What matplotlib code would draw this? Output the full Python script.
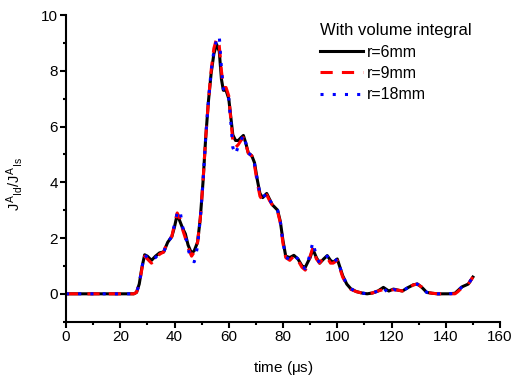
import matplotlib
matplotlib.use('agg')
import matplotlib.pyplot as plt
from matplotlib.ticker import MultipleLocator

plt.rcParams['font.family'] = ['Liberation Sans', 'DejaVu Sans']
plt.rcParams['mathtext.fontset'] = 'custom'
plt.rcParams['mathtext.rm'] = 'Liberation Sans'
plt.rcParams['mathtext.it'] = 'Liberation Sans'

# time samples (us)
t = [0, 25, 26, 27, 28, 29, 30, 31.5, 33, 34.5, 36, 37.5, 39, 40, 41, 42, 43, 44, 45,
     46.3, 47.3, 48.5, 49.5, 50.5, 51.5, 52.5, 53.5, 54.5, 55.5, 56.5, 57.3, 58, 59, 60,
     60.8, 61.5, 62.5, 63.5, 64.5, 65.4, 66.3, 67.2, 68.5, 69.5, 70.5, 71.5, 72.5, 74, 75,
     76, 77, 78, 79, 80, 81, 82.5, 84, 85.5, 87, 88.2, 89.2, 90, 91, 92.3, 93.5, 95, 96.3,
     97.5, 98.5, 100, 101, 102, 103.5, 105, 107, 109, 111, 113, 115, 117, 119, 120.7,
     122.5, 124, 126, 128, 129.5, 131, 133, 135, 137, 139, 141, 143.4, 144.5, 146, 148.3, 150]

r6 = [0, 0, 0.05, 0.35, 0.95, 1.4, 1.35, 1.2, 1.35, 1.47, 1.5, 1.85, 2.05, 2.4, 2.85, 2.6, 2.35, 2.15, 1.75,
      1.45, 1.55, 1.85, 2.7, 4.0, 5.6, 6.9, 7.9, 8.6, 8.95, 8.7, 7.7, 7.3, 7.3, 7.0,
      6.3, 5.7, 5.5, 5.5, 5.6, 5.68, 5.4, 5.05, 4.95, 4.7, 4.1, 3.6, 3.45, 3.6, 3.4,
      3.2, 3.1, 3.0, 2.6, 1.9, 1.35, 1.3, 1.38, 1.25, 1.0, 0.95, 1.15, 1.3, 1.6, 1.3, 1.1, 1.25, 1.37,
      1.2, 1.13, 1.25, 0.95, 0.65, 0.35, 0.18, 0.08, 0.03, 0.0, 0.03, 0.1, 0.23, 0.1, 0.17,
      0.13, 0.1, 0.22, 0.32, 0.35, 0.25, 0.05, 0.02, 0.0, 0.0, 0.0, 0.02, 0.12, 0.25, 0.35, 0.6]

r9 = [0, 0, 0.05, 0.35, 0.9, 1.35, 1.25, 1.1, 1.25, 1.42, 1.5, 1.9, 2.05, 2.5, 2.9, 2.7, 2.3, 2.0, 1.65,
      1.35, 1.5, 1.85, 2.7, 4.0, 5.6, 6.9, 8.0, 8.8, 9.15, 8.9, 8.0, 7.4, 7.4, 7.1,
      6.2, 5.5, 5.25, 5.35, 5.5, 5.6, 5.35, 5.05, 4.95, 4.6, 4.0, 3.5, 3.35, 3.55, 3.35,
      3.2, 3.1, 2.95, 2.55, 1.8, 1.3, 1.2, 1.35, 1.2, 0.95, 0.85, 1.05, 1.35, 1.65, 1.25, 1.1, 1.3, 1.3,
      1.1, 1.1, 1.2, 0.9, 0.6, 0.33, 0.16, 0.08, 0.03, 0.0, 0.03, 0.1, 0.15, 0.12, 0.15,
      0.13, 0.1, 0.2, 0.32, 0.35, 0.25, 0.05, 0.02, 0.0, 0.0, 0.0, 0.0, 0.08, 0.22, 0.35, 0.6]

r18 = [0, 0, 0.05, 0.35, 0.95, 1.4, 1.3, 1.2, 1.3, 1.45, 1.5, 1.85, 2.05, 2.5, 2.9, 3.0, 2.4, 2.1, 1.6,
       1.2, 1.15, 1.7, 2.7, 4.0, 5.6, 6.9, 8.0, 8.7, 9.1, 9.25, 8.1, 7.35, 7.3, 7.0,
       6.1, 5.25, 5.0, 5.3, 5.5, 5.7, 5.4, 5.05, 4.95, 4.65, 4.1, 3.6, 3.45, 3.6, 3.4,
       3.2, 3.1, 3.0, 2.6, 1.85, 1.3, 1.25, 1.38, 1.25, 1.0, 0.9, 1.15, 1.45, 1.85, 1.35, 1.1, 1.25, 1.35,
       1.2, 1.13, 1.25, 0.95, 0.65, 0.35, 0.18, 0.08, 0.03, 0.0, 0.03, 0.1, 0.22, 0.0, 0.15,
       0.13, 0.1, 0.22, 0.32, 0.35, 0.25, 0.05, 0.02, 0.0, 0.0, 0.0, 0.02, 0.12, 0.25, 0.35, 0.6]

fig = plt.figure(figsize=(5.14, 3.77), dpi=100)
ax = fig.add_axes([0.1284, 0.1467, 0.8444, 0.8135])

ax.plot(t, r6, color='black', lw=2.2, label='r=6mm')
ax.plot(t, r9, color='red', lw=2.2, linestyle=(0, (4, 3)), label='r=9mm')
ax.plot(t, r18, color='blue', lw=2.2, linestyle=(0, (1, 3)), label='r=18mm')

ax.set_xlim(0, 160)
ax.set_ylim(-1, 10)
ax.xaxis.set_major_locator(MultipleLocator(20))
ax.xaxis.set_minor_locator(MultipleLocator(10))
ax.yaxis.set_major_locator(MultipleLocator(2))
ax.yaxis.set_minor_locator(MultipleLocator(1))

for s in ['top', 'right']:
    ax.spines[s].set_visible(False)
for s in ['left', 'bottom']:
    ax.spines[s].set_linewidth(1.5)
ax.tick_params(which='major', direction='out', length=4, width=1.5, labelsize=11, pad=2)
ax.tick_params(which='minor', direction='out', length=2.5, width=1.5)

ax.set_xlabel(r'time ($\mu$s)', fontsize=11, labelpad=11)
ax.set_ylabel(r'$J^{A}{}_{Id}/J^{A}{}_{Is}$', fontsize=10.5)
ax.yaxis.set_label_coords(-0.095, 0.45)

leg = ax.legend(title='With volume integral', loc='upper right', frameon=False,
                fontsize=11.5, title_fontsize=12, handlelength=2.7,
                handletextpad=0.25, labelspacing=0.4, bbox_to_anchor=(0.968, 1.02),
                alignment='left')

fig.savefig('out.png', dpi=100)
